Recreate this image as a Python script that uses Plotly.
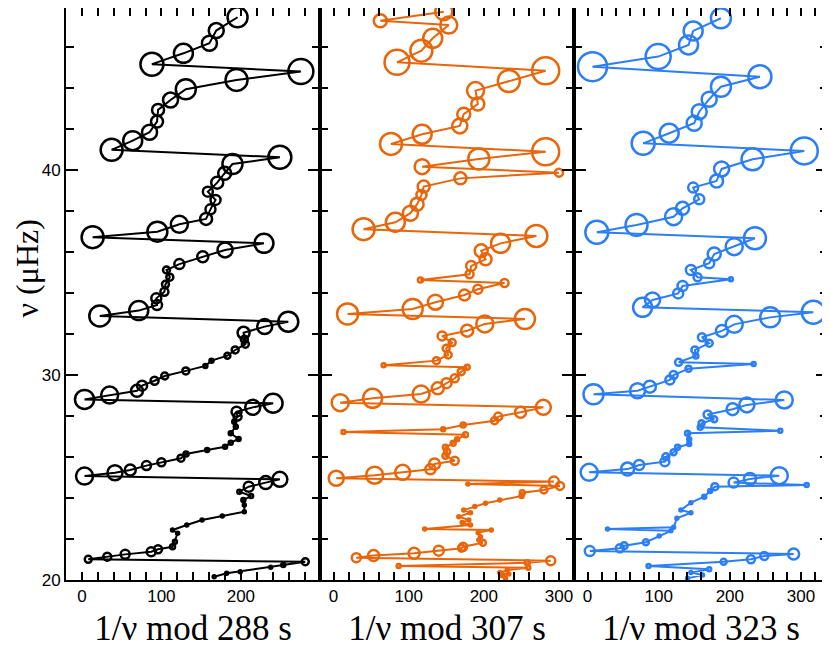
import plotly.graph_objects as go
from plotly.subplots import make_subplots

# panel 1 : period mod 288 s
x288 = [195.8, 169.0, 160.4, 127.7, 88.1, 275.4, 194.5, 130.7, 111.5, 95.8,
        94.5, 85.1, 63.9, 37.4, 249.0, 189.4, 179.6, 170.2, 158.4, 168.1,
        161.7, 156.2, 122.6, 94.9, 13.5, 229.0, 180.1, 152.0, 122.6, 106.4,
        110.6, 105.1, 103.8, 93.6, 94.5, 71.5, 22.5, 259.6, 229.9, 203.4,
        204.3, 205.6, 192.8, 183.0, 163.0, 155.3, 130.7, 104.2, 91.4, 75.7,
        69.3, 34.9, 3.3, 240.5, 214.9, 194.5, 195.8, 191.6, 193.6, 187.2,
        197.1, 187.2, 180.1, 157.5, 131.0, 124.6, 100.0, 81.2, 60.8, 41.6,
        3.3, 249.0, 231.2, 209.8, 198.0, 212.8, 203.1, 204.3, 204.3, 176.6,
        151.1, 131.9, 114.0, 120.4, 117.0, 114.0, 95.8, 87.2, 54.4, 31.9,
        8.0, 281.0, 253.3, 237.5, 199.2, 182.1, 166.4]
nu288 = [47.45, 46.80, 46.18, 45.69, 45.16, 44.80, 44.39, 43.94, 43.41, 42.93,
         42.36, 41.84, 41.43, 40.98, 40.62, 40.29, 39.84, 39.38, 38.94, 38.54,
         38.08, 37.61, 37.35, 36.99, 36.72, 36.42, 36.10, 35.77, 35.41, 35.12,
         34.77, 34.42, 34.06, 33.74, 33.41, 33.14, 32.88, 32.60, 32.36, 32.06,
         31.74, 31.50, 31.22, 30.94, 30.70, 30.44, 30.20, 29.95, 29.72, 29.48,
         29.23, 29.02, 28.81, 28.62, 28.42, 28.21, 27.97, 27.72, 27.48, 27.16,
         26.88, 26.70, 26.50, 26.34, 26.15, 25.94, 25.74, 25.58, 25.37, 25.23,
         25.07, 24.91, 24.75, 24.55, 24.31, 24.10, 23.90, 23.66, 23.33, 23.12,
         22.93, 22.68, 22.44, 22.28, 21.87, 21.62, 21.50, 21.38, 21.25, 21.14,
         21.01, 20.89, 20.73, 20.62, 20.40, 20.33, 20.16]
amp288 = [20, 15, 15, 19, 23, 25, 22, 20, 15, 12,
          12, 15, 19, 22, 23, 20, 13, 12, 10, 10,
          10, 12, 17, 20, 22, 19, 15, 11, 10, 7,
          7, 7, 8, 10, 10, 19, 21, 20, 15, 12,
          7, 7, 7, 6, 4, 4, 7, 7, 8, 10,
          12, 17, 19, 19, 15, 10, 8, 4, 4, 4,
          4, 4, 4, 4, 5, 7, 8, 9, 11, 15,
          17, 15, 13, 10, 4, 4, 4, 3, 3, 3,
          3, 3, 3, 3, 4, 5, 8, 9, 9, 8,
          7, 7, 4, 3, 3, 3, 3]

# panel 2 : period mod 307 s
x307 = [146.7, 62.3, 153.3, 132.0, 116.9, 84.5, 282.3, 233.3, 189.0, 192.0,
        173.3, 168.0, 117.9, 76.5, 282.3, 193.3, 117.9, 300.0, 168.9, 120.0,
        117.0, 111.2, 102.3, 82.3, 40.0, 269.9, 222.3, 196.5, 202.3, 183.2,
        181.0, 115.6, 227.6, 192.0, 174.3,
        135.6, 105.3, 18.7, 254.7, 201.3, 177.9, 144.5, 157.9, 149.9, 152.5,
        136.9, 66.7, 177.9, 169.9, 161.3, 150.3, 138.7, 116.5, 52.0, 8.9,
        279.2, 248.9, 219.2, 214.3, 172.5, 145.9, 13.3, 175.6, 164.5, 159.2,
        148.9, 151.2, 148.9, 161.3, 134.3, 128.9, 92.0, 54.7, 3.6, 293.3,
        178.7, 301.3, 280.0, 251.2, 250.2, 221.3, 202.3, 188.0, 173.3,
        182.3, 166.7, 180.0, 171.2, 182.3, 121.3, 209.9, 192.5, 195.6, 193.3,
        198.7, 172.5, 170.3, 140.0, 107.2, 53.3, 30.3, 289.0, 257.8, 86.7,
        259.2, 231.2, 221.3, 233.3, 224.5, 228.9]
nu307 = [47.72, 47.28, 47.07, 46.42, 45.82, 45.25, 44.84, 44.34, 43.87, 43.22,
         42.72, 42.15, 41.74, 41.27, 40.89, 40.54, 40.16, 39.87, 39.59, 39.19,
         38.78, 38.33, 37.89, 37.45, 37.11, 36.78, 36.42, 36.06, 35.64, 35.32,
         34.91, 34.63, 34.49, 34.18, 33.90,
         33.55, 33.22, 32.98, 32.73, 32.49, 32.16, 31.90, 31.58, 31.30, 30.98,
         30.70, 30.47, 30.38, 30.16, 29.84, 29.60, 29.35, 29.07, 28.86, 28.65,
         28.42, 28.18, 27.97, 27.77, 27.56, 27.35, 27.22, 27.09, 26.86, 26.67,
         26.47, 26.26, 26.06, 25.82, 25.66, 25.40, 25.25, 25.11, 24.96, 24.80,
         24.68, 24.59, 24.39, 24.26, 24.10, 23.90, 23.74, 23.58, 23.41,
         23.28, 23.09, 22.93, 22.80, 22.68, 22.49, 22.44, 22.31, 22.11, 21.95,
         21.82, 21.62, 21.55, 21.43, 21.30, 21.19, 21.09, 20.94, 20.84, 20.68,
         20.60, 20.49, 20.36, 20.29, 20.21, 20.08]
amp307 = [17, 13, 17, 19, 22, 25, 27, 22, 17, 13,
          13, 15, 19, 22, 27, 21, 15, 8, 12, 12,
          10, 13, 15, 19, 22, 22, 19, 13, 12, 10,
          8, 5, 8, 9, 11,
          15, 20, 21, 20, 17, 12, 9, 7, 7, 7,
          7, 4, 5, 7, 8, 10, 12, 17, 19, 17,
          15, 11, 8, 7, 5, 4, 4, 5, 4, 5,
          5, 6, 6, 8, 11, 10, 15, 17, 15, 10,
          3, 8, 7, 5, 4, 3, 3, 3, 3,
          3, 3, 3, 3, 3, 3, 3, 3, 3, 3,
          6, 8, 7, 10, 11, 11, 9, 9, 5, 4,
          4, 3, 3, 3, 3, 3]

# panel 3 : period mod 323 s
x323 = [187.5, 148.5, 142.0, 99.3, 7.0, 242.3, 187.5, 171.0, 157.0, 149.9,
        114.8, 78.2, 304.6, 232.0, 188.5, 181.4, 148.5, 157.0, 133.6, 121.0,
        68.9, 13.1, 235.3, 206.2, 178.1, 171.0, 145.3, 154.7, 201.5, 133.6,
        127.4,
        91.4, 77.4, 317.3, 256.8, 206.2, 188.9, 160.8, 171.0, 150.9, 152.3,
        128.0, 233.5, 142.0, 121.0, 115.8, 87.6, 70.3, 8.4, 276.5, 224.0,
        203.9, 168.8, 178.1, 160.3, 158.4, 270.9, 140.6, 142.9, 142.9, 126.6,
        121.0, 110.1, 108.7, 72.6, 56.3, 2.3, 269.5, 228.3, 205.3, 308.0,
        179.0, 172.4, 164.0, 145.3, 131.2, 145.3, 125.6, 121.0, 28.1, 117.2,
        100.7, 82.0, 51.5, 45.4, 3.2, 289.7, 248.4, 229.7, 191.3, 85.8,
        171.0, 145.3, 161.7, 140.6]
nu323 = [47.40, 46.78, 46.10, 45.53, 45.04, 44.55, 44.06, 43.45, 42.84, 42.28,
         41.79, 41.30, 40.93, 40.52, 40.05, 39.46, 39.14, 38.57, 38.13, 37.72,
         37.32, 36.96, 36.67, 36.26, 35.90, 35.45, 35.12, 34.77, 34.67, 34.34,
         33.98,
         33.66, 33.30, 33.06, 32.81, 32.47, 32.15, 31.84, 31.55, 31.22, 30.93,
         30.62, 30.54, 30.31, 30.00, 29.76, 29.43, 29.23, 29.06, 28.78, 28.54,
         28.33, 28.07, 27.84, 27.64, 27.45, 27.28, 27.16, 26.86, 26.63, 26.47,
         26.23, 26.01, 25.77, 25.61, 25.41, 25.25, 25.09, 24.93, 24.75, 24.63,
         24.55, 24.34, 24.06, 23.77, 23.41, 23.28, 23.01, 22.57, 22.49, 22.40,
         22.15, 21.84, 21.67, 21.55, 21.41, 21.27, 21.17, 21.01, 20.89, 20.68,
         20.52, 20.36, 20.24, 20.08]
amp323 = [20, 19, 19, 25, 29, 23, 20, 15, 15, 15,
          19, 23, 27, 22, 15, 13, 10, 10, 13, 17,
          22, 23, 22, 17, 13, 10, 10, 8, 4, 10,
          10,
          15, 19, 23, 20, 17, 12, 8, 7, 7, 5,
          7, 4, 6, 8, 9, 12, 15, 20, 17, 15,
          12, 8, 6, 6, 5, 4, 5, 4, 4, 5,
          6, 7, 9, 10, 13, 17, 17, 12, 10, 4,
          7, 4, 4, 3, 3, 3, 3, 3, 3, 3,
          3, 6, 7, 8, 10, 11, 8, 8, 6, 4,
          4, 3, 3, 3]

periods = [288, 307, 323]
xranges = [[-20, 299.5], [-18, 320], [-19, 338]]
colors = ['#000000', '#e8650a', '#2b7ef5']
panels = [(x288, nu288, amp288), (x307, nu307, amp307), (x323, nu323, amp323)]

fig = make_subplots(rows=1, cols=3, shared_yaxes=True, horizontal_spacing=0)

for i, (xs, ys, amps) in enumerate(panels):
    fig.add_trace(go.Scatter(x=xs, y=ys, mode='lines+markers',
                             line=dict(color=colors[i], width=2),
                             marker=dict(symbol='circle-open', size=amps, opacity=1,
                                         color=colors[i],
                                         line=dict(color=colors[i], width=2.5)),
                             showlegend=False),
                  row=1, col=i + 1)
    fig.update_xaxes(range=xranges[i],
                     title=dict(text='1/ν mod %d s' % periods[i],
                                font=dict(family='Liberation Serif', size=35, color='black'),
                                standoff=10),
                     row=1, col=i + 1)

fig.update_xaxes(tick0=0, dtick=100, ticks='inside', ticklen=8, tickwidth=1.5,
                 tickcolor='black', automargin=False,
                 minor=dict(dtick=20, ticks='inside', ticklen=8, tickwidth=1.5, tickcolor='black'),
                 showline=True, linewidth=2, linecolor='black', mirror='allticks',
                 showgrid=False, zeroline=False,
                 tickfont=dict(family='Liberation Sans', size=17, color='black'))
fig.update_yaxes(range=[20, 47.9], tick0=0, dtick=10, ticks='inside', ticklen=12,
                 tickwidth=1.5, tickcolor='black', automargin=False,
                 minor=dict(dtick=2, ticks='inside', ticklen=8, tickwidth=1.5, tickcolor='black'),
                 showline=True, linewidth=2, linecolor='black', mirror='allticks',
                 showgrid=False, zeroline=False,
                 tickfont=dict(family='Liberation Sans', size=17, color='black'))

# y label sits a little above the middle of the axis, so use an annotation
fig.add_annotation(text='ν (μHz)', textangle=-90, showarrow=False,
                   xref='paper', yref='paper', x=-0.051, y=0.545,
                   xanchor='center', yanchor='middle',
                   font=dict(family='Liberation Serif', size=32, color='black'))

# page body adds 8 px around the figure, so the figure itself is a bit smaller
fig.update_layout(width=822, height=640,
                  margin=dict(l=58, r=2, t=0, b=68),
                  plot_bgcolor='white', paper_bgcolor='white')

fig.write_html("out.html")
